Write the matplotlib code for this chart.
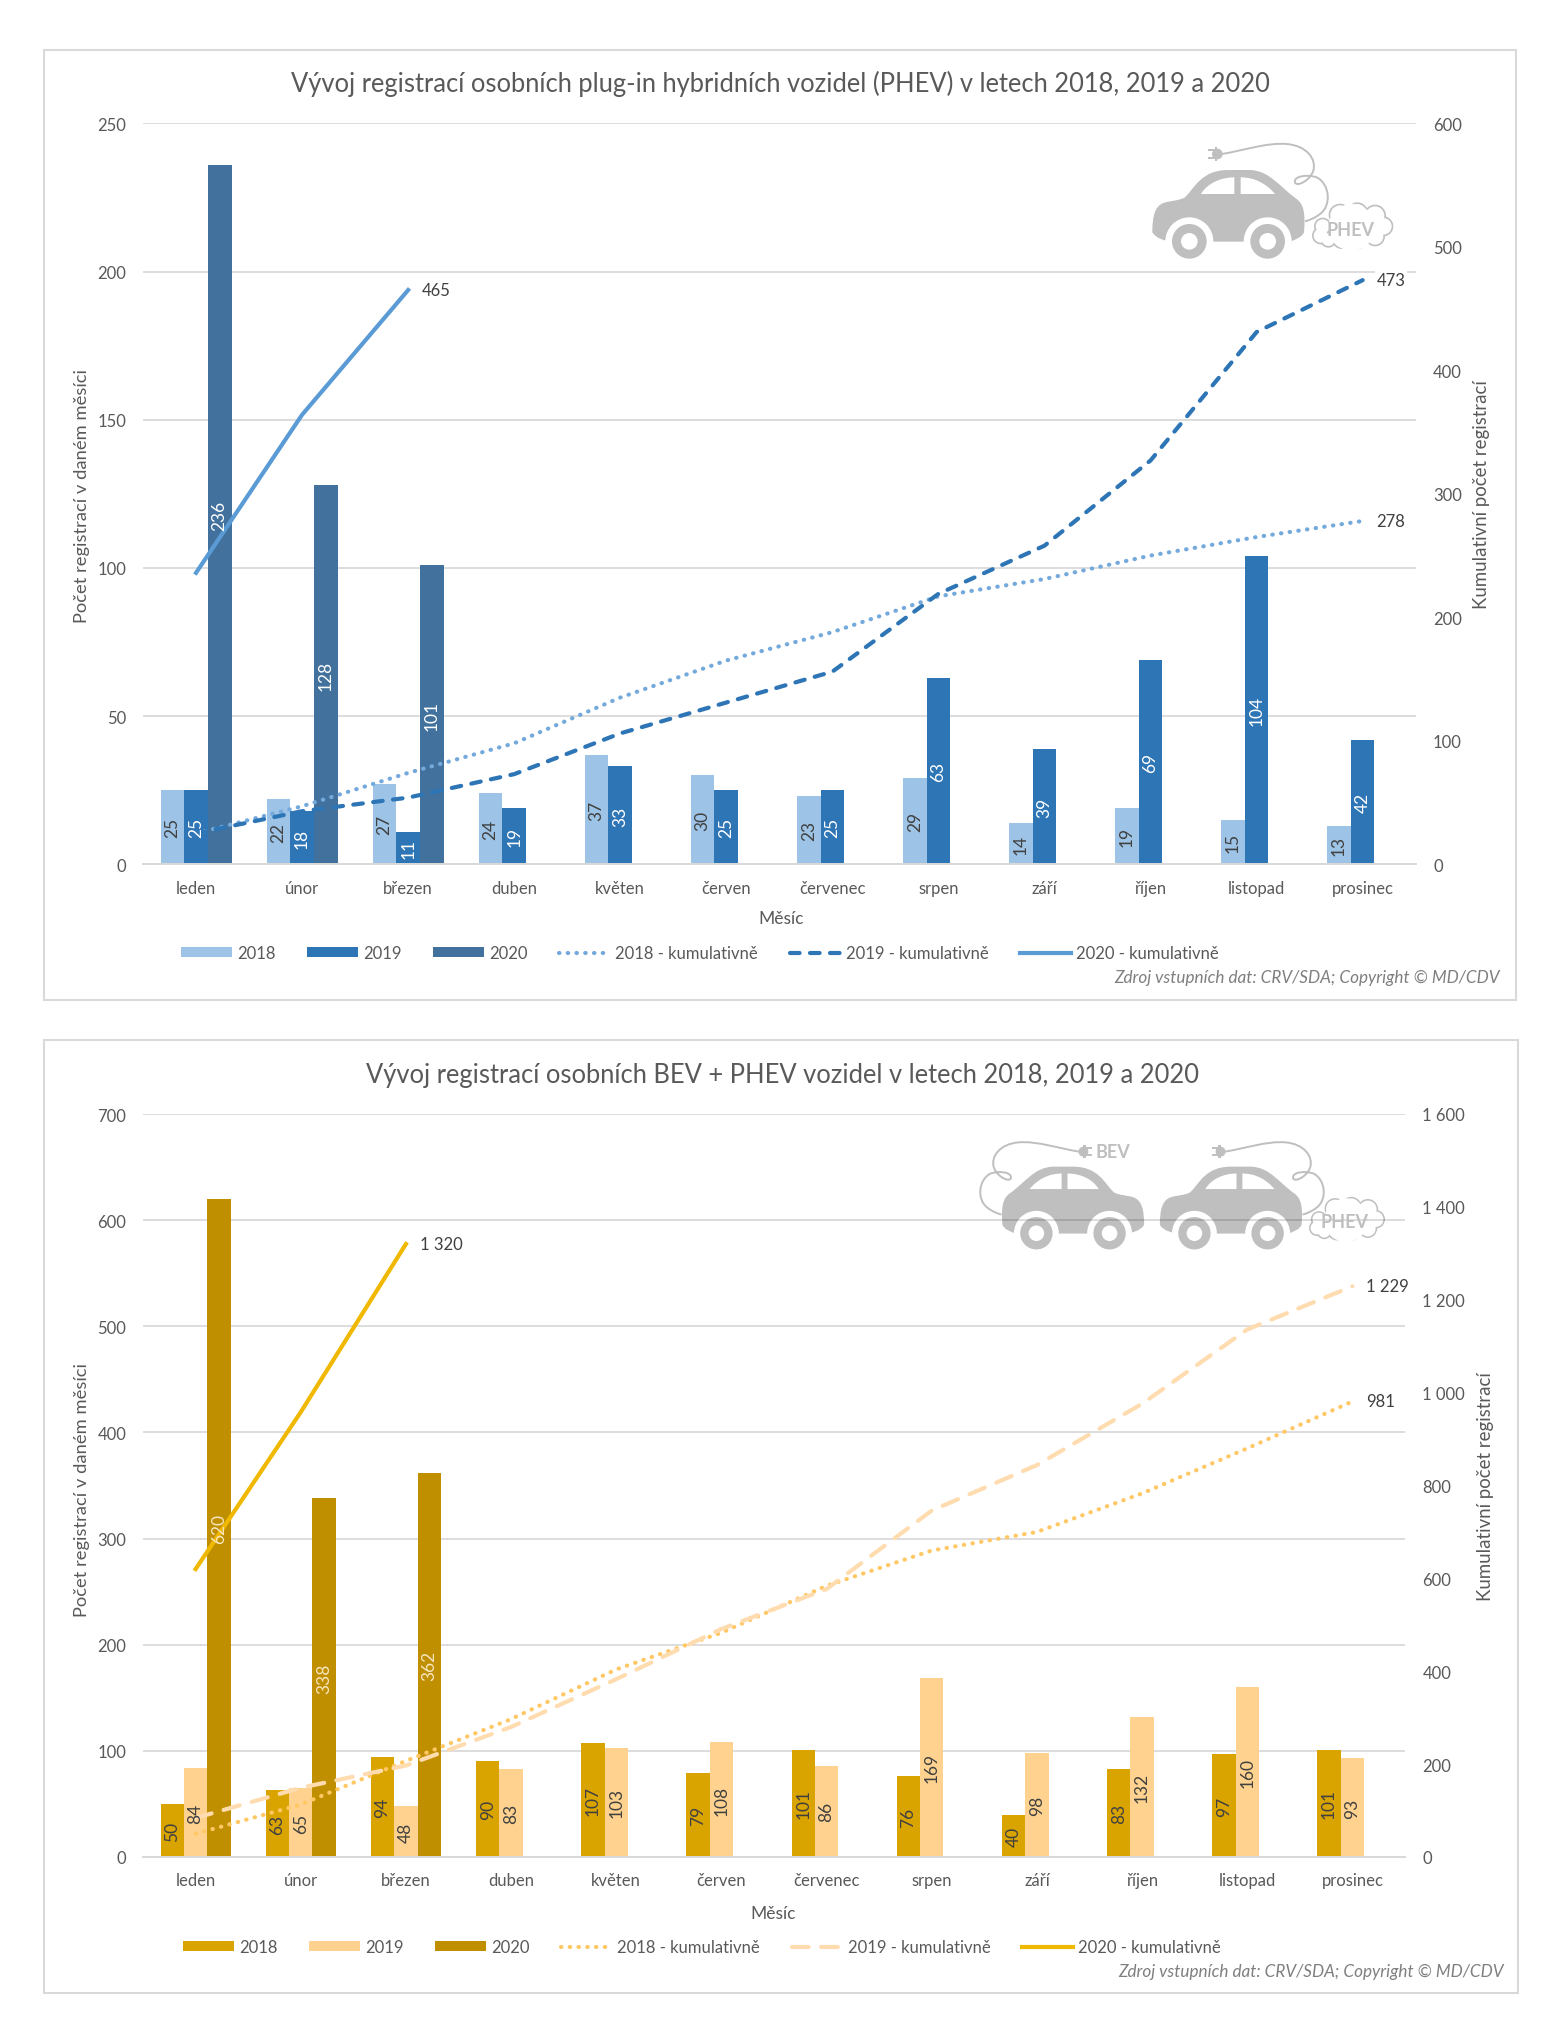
import matplotlib
matplotlib.use('Agg')
import numpy as np
import matplotlib.pyplot as plt
from matplotlib.patches import Circle, PathPatch, Rectangle
from matplotlib.path import Path
from matplotlib.transforms import Affine2D

W, H = 1566, 2040
GREY = '#595959'
ICON = '#BFBFBF'
plt.rcParams['font.family'] = ['Lato', 'DejaVu Sans']
plt.rcParams['font.size'] = 12

months = ['leden', 'únor', 'březen', 'duben', 'květen', 'červen', 'červenec',
          'srpen', 'září', 'říjen', 'listopad', 'prosinec']

phev_2018 = [25, 22, 27, 24, 37, 30, 23, 29, 14, 19, 15, 13]
phev_2019 = [25, 18, 11, 19, 33, 25, 25, 63, 39, 69, 104, 42]
phev_2020 = [236, 128, 101]
phev_cum_2018 = [25, 47, 74, 98, 135, 165, 188, 217, 231, 250, 265, 278]
phev_cum_2019 = [25, 43, 54, 73, 106, 131, 156, 219, 258, 327, 431, 473]
phev_cum_2020 = [236, 364, 465]

all_2018 = [50, 63, 94, 90, 107, 79, 101, 76, 40, 83, 97, 101]
all_2019 = [84, 65, 48, 83, 103, 108, 86, 169, 98, 132, 160, 93]
all_2020 = [620, 338, 362]
all_cum_2018 = [50, 113, 207, 297, 404, 483, 584, 660, 700, 783, 880, 981]
all_cum_2019 = [84, 149, 197, 280, 383, 491, 577, 746, 844, 976, 1136, 1229]
all_cum_2020 = [620, 958, 1320]

phev_left_ticks = [0, 50, 100, 150, 200, 250]
phev_right_ticks = [0, 100, 200, 300, 400, 500, 600]
all_left_ticks = [0, 100, 200, 300, 400, 500, 600, 700]
all_right_ticks = [0, 200, 400, 600, 800, 1000, 1200, 1400, 1600]
all_right_labels = ['0', '200', '400', '600', '800', '1 000', '1 200', '1 400', '1 600']

fig = plt.figure(figsize=(W / 100, H / 100), dpi=100, facecolor='white')


def ftext(x, y, s, **kw):
    # x, y in pixels from the top left corner
    kw.setdefault('color', GREY)
    kw.setdefault('ha', 'center')
    kw.setdefault('va', 'center')
    return fig.text(x / W, 1 - y / H, s, **kw)


def bez(*segs):
    # M point, then L (1 point) or C (3 points)
    verts, codes = [], []
    for s in segs:
        verts += s
        if len(s) == 3:
            codes += [Path.CURVE4] * 3
        elif not codes:
            codes += [Path.MOVETO]
        else:
            codes += [Path.LINETO]
    return Path(verts, codes)


def draw_car(ox, oy, s, mirror=False):
    # icon is described in 3x zoomed units, s is the size factor
    k = s / 3
    tf = Affine2D().scale(-k if mirror else k, -k).translate(ox, H - oy)

    def add(a):
        a.set_transform(tf)
        a.set_zorder(-1)
        fig.add_artist(a)

    body = bez([(157, 340)],
               [(157, 290), (165, 262), (190, 252)],
               [(210, 245), (240, 245), (255, 235)],
               [(285, 205), (305, 153), (385, 153)],
               [(450, 153)],
               [(510, 155), (540, 205), (590, 240)],
               [(610, 255), (617, 280), (612, 340)],
               [(605, 355), (590, 360), (570, 368)],
               [(215, 368)],
               [(195, 365), (170, 360), (157, 340)])
    add(PathPatch(body, fc=ICON, ec='none'))
    for cx in (268, 503):
        add(Circle((cx, 367), 72, fc='white', ec='none'))
        add(Circle((cx, 367), 52, fc=ICON, ec='none'))
        add(Circle((cx, 367), 25, fc='white', ec='none'))
    add(PathPatch(bez([(303, 225)], [(320, 195), (360, 175), (403, 175)],
                      [(403, 225)], [(303, 225)]), fc='white', ec='none'))
    add(PathPatch(bez([(422, 175)], [(465, 175), (500, 195), (525, 225)],
                      [(422, 225)], [(422, 175)]), fc='white', ec='none'))
    cable = bez([(365, 105)],
                [(430, 95), (500, 70), (560, 75)],
                [(620, 80), (650, 120), (640, 155)],
                [(630, 185), (590, 205), (585, 190)],
                [(580, 172), (620, 165), (650, 175)],
                [(690, 195), (695, 260), (660, 285)],
                [(645, 297), (630, 303), (615, 307)])
    add(PathPatch(cable, fc='none', ec=ICON, lw=1.4))
    # plug
    add(Rectangle((345, 84), 7, 42, fc=ICON, ec='none'))
    add(Circle((352, 105), 16, fc=ICON, ec='none'))
    add(Rectangle((325, 90), 20, 6, fc=ICON, ec='none'))
    add(Rectangle((325, 114), 20, 6, fc=ICON, ec='none'))


def draw_cloud(ox, oy, s):
    k = s / 3
    tf = Affine2D().scale(k, -k).translate(ox, H - oy)
    puffs = [(662, 350, 26), (668, 322, 26), (720, 288, 34), (772, 282, 32),
             (825, 290, 33), (850, 322, 30), (825, 352, 30), (770, 362, 30),
             (725, 362, 28), (685, 362, 24)]
    for edge, r_add in ((ICON, 0), ('white', -5)):
        for cx, cy, r in puffs:
            c = Circle((cx, cy), r + r_add, fc=edge, ec='none', zorder=-1)
            c.set_transform(tf)
            fig.add_artist(c)
    c = Circle((755, 325), 70, fc='white', ec='none', zorder=-1)
    c.set_transform(tf)
    fig.add_artist(c)


def panel(frame, box, v18, v19, v20, c18, c19, c20, colors, lab_colors, width,
          lticks, rticks, rlabels, ends, ylab, ylab2, xlab,
          legend_xy, src, title, title_xy, long_dash):
    fx0, fy0, fx1, fy1 = frame
    fig.add_artist(Rectangle((fx0 / W, 1 - fy1 / H), (fx1 - fx0) / W, (fy1 - fy0) / H,
                             fc='none', ec='#D9D9D9', lw=1.5,
                             transform=fig.transFigure, zorder=-2))
    x0, y0, x1, y1 = box
    ax = fig.add_axes([x0 / W, 1 - y1 / H, (x1 - x0) / W, (y1 - y0) / H])
    ax2 = ax.twinx()
    ax.patch.set_visible(False)
    ax2.patch.set_visible(False)

    x = np.arange(len(months))
    b18 = ax.bar(x - width, v18, width, color=colors[0], label='2018')
    b19 = ax.bar(x, v19, width, color=colors[1], label='2019')
    b20 = ax.bar(x[:len(v20)] + width, v20, width, color=colors[2], label='2020')

    l18, = ax2.plot(x, c18, color=colors[3], lw=3, dashes=(0.1, 2.0),
                    dash_capstyle='round', label='2018 - kumulativně')
    l19, = ax2.plot(x, c19, color=colors[4], lw=3, dashes=long_dash,
                    dash_capstyle='round', label='2019 - kumulativně')
    l20, = ax2.plot(x[:len(c20)], c20, color=colors[5], lw=3,
                    label='2020 - kumulativně')

    for off, vals, col in ((-width, v18, lab_colors[0]), (0, v19, lab_colors[1]),
                           (width, v20, lab_colors[2])):
        for i, v in enumerate(vals):
            ax2.text(i + off, v / 2, str(v), transform=ax.transData, rotation=90,
                     ha='center', va='center', color=col, fontsize=12.5)

    for cum, s in ends:
        ax2.annotate(s, (len(cum) - 1, cum[-1]), xytext=(10, 0),
                     textcoords='offset points', va='center', color='#404040',
                     fontsize=12, bbox=dict(fc='white', ec='none', pad=1.5))

    ax.set_xlim(-0.5, 11.5)
    ax.set_ylim(lticks[0], lticks[-1])
    ax2.set_ylim(rticks[0], rticks[-1])
    ax.set_yticks(lticks)
    ax2.set_yticks(rticks)
    ax2.set_yticklabels(rlabels)
    ax.set_xticks(x)
    ax.set_xticklabels(months)
    ax.yaxis.grid(True, color='black', alpha=0.15, lw=1.3)
    ax.set_axisbelow(True)
    ax.tick_params(axis='x', length=0, pad=11, labelcolor=GREY, labelsize=12)
    ax.tick_params(axis='y', length=0, pad=12, labelcolor=GREY, labelsize=12)
    ax2.tick_params(axis='y', length=0, pad=12.5, labelcolor=GREY, labelsize=12)
    for a in (ax, ax2):
        for name in ('top', 'left', 'right'):
            a.spines[name].set_visible(False)
        a.spines['bottom'].set_color('#D9D9D9')
        a.spines['bottom'].set_linewidth(1.3)

    ftext(ylab[0], ylab[1], 'Počet registrací v daném měsíci', rotation=90, fontsize=13.2)
    ftext(ylab2[0], ylab2[1], 'Kumulativní počet registrací', rotation=90, fontsize=13.4)
    ftext(xlab[0], xlab[1], 'Měsíc', fontsize=12.5)
    ftext(title_xy[0], title_xy[1], title, fontsize=18.4)
    ftext(src[0], src[1], 'Zdroj vstupních dat: CRV/SDA; Copyright © MD/CDV',
          ha='right', style='italic', fontsize=12.3, color='#7F7F7F')

    handles = [b18, b19, b20, l18, l19, l20]
    labels = [h.get_label() for h in handles]
    fig.legend(handles, labels, ncol=6, frameon=False, loc='center',
               bbox_to_anchor=(legend_xy[0] / W, 1 - legend_xy[1] / H), fontsize=12,
               handlelength=3.05, handleheight=0.55, handletextpad=0.3,
               columnspacing=1.9, labelcolor=GREY, borderpad=0, borderaxespad=0)


panel((44, 51, 1516, 1001), (143, 124.3, 1415.7, 865.3),
      phev_2018, phev_2019, phev_2020, phev_cum_2018, phev_cum_2019, phev_cum_2020,
      ['#9DC3E6', '#2E75B6', '#41719C', '#74A9DC', '#2E75B6', '#5B9BD5'],
      ['#404040', 'white', 'white'], 0.223,
      phev_left_ticks, phev_right_ticks, [str(t) for t in phev_right_ticks],
      [(phev_cum_2018, '278'), (phev_cum_2019, '473'), (phev_cum_2020, '465')],
      (82, 496), (1482, 495), (781, 919), (700, 954), (1500, 978),
      'Vývoj registrací osobních plug-in hybridních vozidel (PHEV) v letech 2018, 2019 a 2020',
      (780, 84), (2.3, 2.5))

panel((44, 1041, 1518, 1994), (143, 1115, 1405, 1858),
      all_2018, all_2019, all_2020, all_cum_2018, all_cum_2019, all_cum_2020,
      ['#D9A300', '#FFD38F', '#BF8F00', '#FFC864', '#FFDCB0', '#F0B800'],
      ['#404040', '#404040', '#F7E6C0'], 0.222,
      all_left_ticks, all_right_ticks, all_right_labels,
      [(all_cum_2018, '981'), (all_cum_2019, '1 229'), (all_cum_2020, '1 320')],
      (82, 1490), (1486, 1487), (773, 1914), (702, 1948), (1504, 1972),
      'Vývoj registrací osobních BEV + PHEV vozidel v letech 2018, 2019 a 2020',
      (782, 1076), (4, 3))

# icons
draw_car(1100, 120, 1.0)
draw_cloud(1100, 120, 1.0)
ftext(1100 + 750 / 3, 120 + 330 / 3, 'PHEV', fontsize=13, fontweight='bold', color=ICON)

draw_car(1111, 1120, 0.934)
draw_cloud(1111, 1120, 0.934)
ftext(1111 + 750 * 0.934 / 3, 1120 + 330 * 0.934 / 3, 'PHEV', fontsize=13, fontweight='bold', color=ICON)
draw_car(1193, 1120, 0.934, mirror=True)
ftext(1113, 1153, 'BEV', fontsize=13, fontweight='bold', color=ICON)

fig.savefig('out.png', dpi=100, facecolor='white')
